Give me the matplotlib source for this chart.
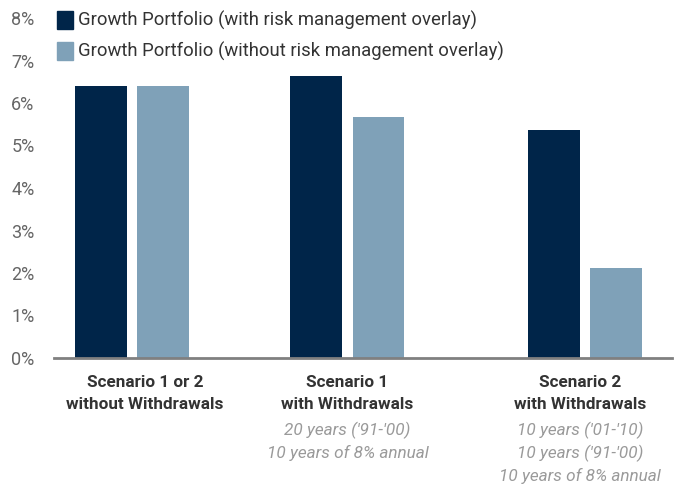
import matplotlib
matplotlib.use("Agg")
import matplotlib.pyplot as plt
from matplotlib.patches import Rectangle

categories = ["Scenario 1 or 2\nwithout Withdrawals",
              "Scenario 1\nwith Withdrawals",
              "Scenario 2\nwith Withdrawals"]
sublabels = ["",
             "20 years ('91-'00)\n10 years of 8% annual",
             "10 years ('01-'10)\n10 years ('91-'00)\n10 years of 8% annual"]
with_overlay = [6.40, 6.64, 5.36]
without_overlay = [6.40, 5.67, 2.12]
series_names = ["Growth Portfolio (with risk management overlay)",
                "Growth Portfolio (without risk management overlay)"]
yticks = [0, 1, 2, 3, 4, 5, 6, 7, 8]

dark = "#002549"
light = "#7fa1b8"
font = ["Roboto", "DejaVu Sans"]
plt.rcParams['font.family'] = font

W, H = 674, 487
fig = plt.figure(figsize=(W / 100, H / 100), dpi=100)
ax = fig.add_axes([54 / W, (H - 358) / H, (672 - 54) / W, 340 / H])

pos = [0, 1, 2.104]
bw = 0.241
off = 0.144
ax.bar([p - off for p in pos], with_overlay, width=bw, color=dark, zorder=2)
ax.bar([p + off for p in pos], without_overlay, width=bw, color=light, zorder=2)

ax.set_xlim(-0.362, 2.506)
ax.set_ylim(0, 8)
ax.set_yticks(yticks)
ax.set_yticklabels([f"{t}%" for t in yticks], fontsize=13, color="#666666")
ax.tick_params(axis='y', length=0, pad=14)
ax.set_xticks([])
for s in ["top", "right", "left"]:
    ax.spines[s].set_visible(False)
ax.spines["bottom"].set_color("#808080")
ax.spines["bottom"].set_linewidth(2)
ax.spines["bottom"].set_zorder(3)

label_x = [0.06, 1.0, 2.079]
for lx, cat, sub in zip(label_x, categories, sublabels):
    ax.text(lx, -0.40, cat, ha="center", va="top", fontsize=12.3, fontweight="bold",
            color="#333333", linespacing=1.6)
    if sub:
        ax.text(lx, -1.50, sub, ha="center", va="top", fontsize=12.3, style="italic",
                color="#9a9a9a", linespacing=1.45)

# legend
for i, (name, c) in enumerate(zip(series_names, [dark, light])):
    y0 = H - 11 - i * 31
    fig.patches.append(Rectangle((57 / W, (y0 - 18) / H), 16 / W, 18 / H,
                                 transform=fig.transFigure, color=c))
    fig.text(78 / W, (y0 - 9) / H, name, fontsize=13.3, color="#333333", va="center", ha="left")

fig.savefig("out.png", dpi=100)
